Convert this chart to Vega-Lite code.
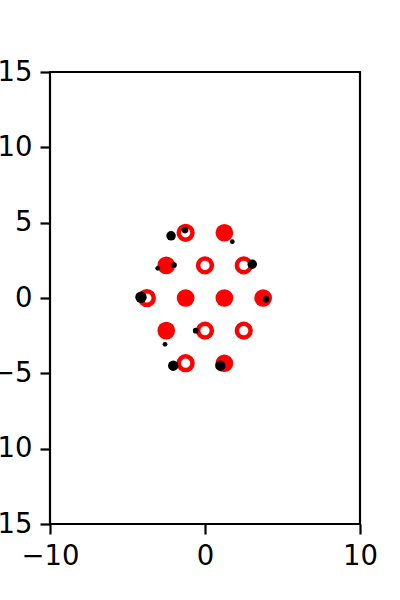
{
  "$schema": "https://vega.github.io/schema/vega-lite/v6.json",
  "width": 310,
  "height": 452,
  "autosize": {"type": "none"},
  "padding": {"left": 50, "top": 72, "right": 40, "bottom": 76},
  "background": "white",
  "config": {
    "view": {"stroke": "black", "strokeWidth": 2.2},
    "axis": {
      "domain": false,
      "grid": false,
      "ticks": true,
      "tickColor": "black",
      "tickSize": 10,
      "tickWidth": 2.2,
      "labelFont": "DejaVu Sans",
      "labelFontSize": 27.5,
      "labelColor": "black",
      "labelPadding": 8,
      "labelFlush": false,
      "labelOverlap": false,
      "title": null
    }
  },
  "data": {
    "values": [
      {"x": -1.25, "y": 4.33, "kind": "hollow"},
      {"x": 1.25, "y": 4.33, "kind": "filled"},
      {"x": -2.5, "y": 2.165, "kind": "filled"},
      {"x": 0, "y": 2.165, "kind": "hollow"},
      {"x": 2.5, "y": 2.165, "kind": "hollow"},
      {"x": -3.75, "y": 0, "kind": "hollow"},
      {"x": -1.25, "y": 0, "kind": "filled"},
      {"x": 1.25, "y": 0, "kind": "filled"},
      {"x": 3.75, "y": 0, "kind": "filled"},
      {"x": -2.5, "y": -2.165, "kind": "filled"},
      {"x": 0, "y": -2.165, "kind": "hollow"},
      {"x": 2.5, "y": -2.165, "kind": "hollow"},
      {"x": -1.25, "y": -4.33, "kind": "hollow"},
      {"x": 1.25, "y": -4.33, "kind": "filled"},
      {"x": -2.19, "y": 4.13, "kind": "particle", "mass": 10},
      {"x": -1.29, "y": 4.51, "kind": "particle", "mass": 7},
      {"x": 1.76, "y": 3.74, "kind": "particle", "mass": 5},
      {"x": -2.0, "y": 2.19, "kind": "particle", "mass": 6},
      {"x": -3.05, "y": 1.97, "kind": "particle", "mass": 5},
      {"x": 3.05, "y": 2.24, "kind": "particle", "mass": 10},
      {"x": -4.13, "y": 0.05, "kind": "particle", "mass": 12},
      {"x": 3.94, "y": -0.09, "kind": "particle", "mass": 7},
      {"x": -0.6, "y": -2.17, "kind": "particle", "mass": 6},
      {"x": -2.58, "y": -3.07, "kind": "particle", "mass": 5},
      {"x": -2.05, "y": -4.49, "kind": "particle", "mass": 11},
      {"x": 0.99, "y": -4.49, "kind": "particle", "mass": 11}
    ]
  },
  "encoding": {
    "x": {"field": "x", "type": "quantitative", "scale": {"domain": [-10, 10], "nice": false, "zero": false}, "axis": {"values": [-10, 0, 10]}},
    "y": {"field": "y", "type": "quantitative", "scale": {"domain": [-15, 15], "nice": false, "zero": false}, "axis": {"values": [-15, -10, -5, 0, 5, 10, 15]}}
  },
  "layer": [
    {
      "transform": [{"filter": "datum.kind === 'filled'"}],
      "mark": {"type": "point", "shape": "circle", "filled": true, "color": "#ff0000", "opacity": 1, "size": 314}
    },
    {
      "transform": [{"filter": "datum.kind === 'hollow'"}],
      "mark": {"type": "point", "shape": "circle", "filled": false, "color": "#ff0000", "opacity": 1, "size": 189, "strokeWidth": 4.5}
    },
    {
      "transform": [{"filter": "datum.kind === 'particle'"}],
      "mark": {"type": "point", "shape": "circle", "filled": true, "color": "#000000", "opacity": 1},
      "encoding": {
        "size": {"field": "mass", "type": "quantitative", "scale": {"type": "pow", "exponent": 2, "domain": [0, 12], "range": [0, 130]}, "legend": null}
      }
    }
  ]
}
